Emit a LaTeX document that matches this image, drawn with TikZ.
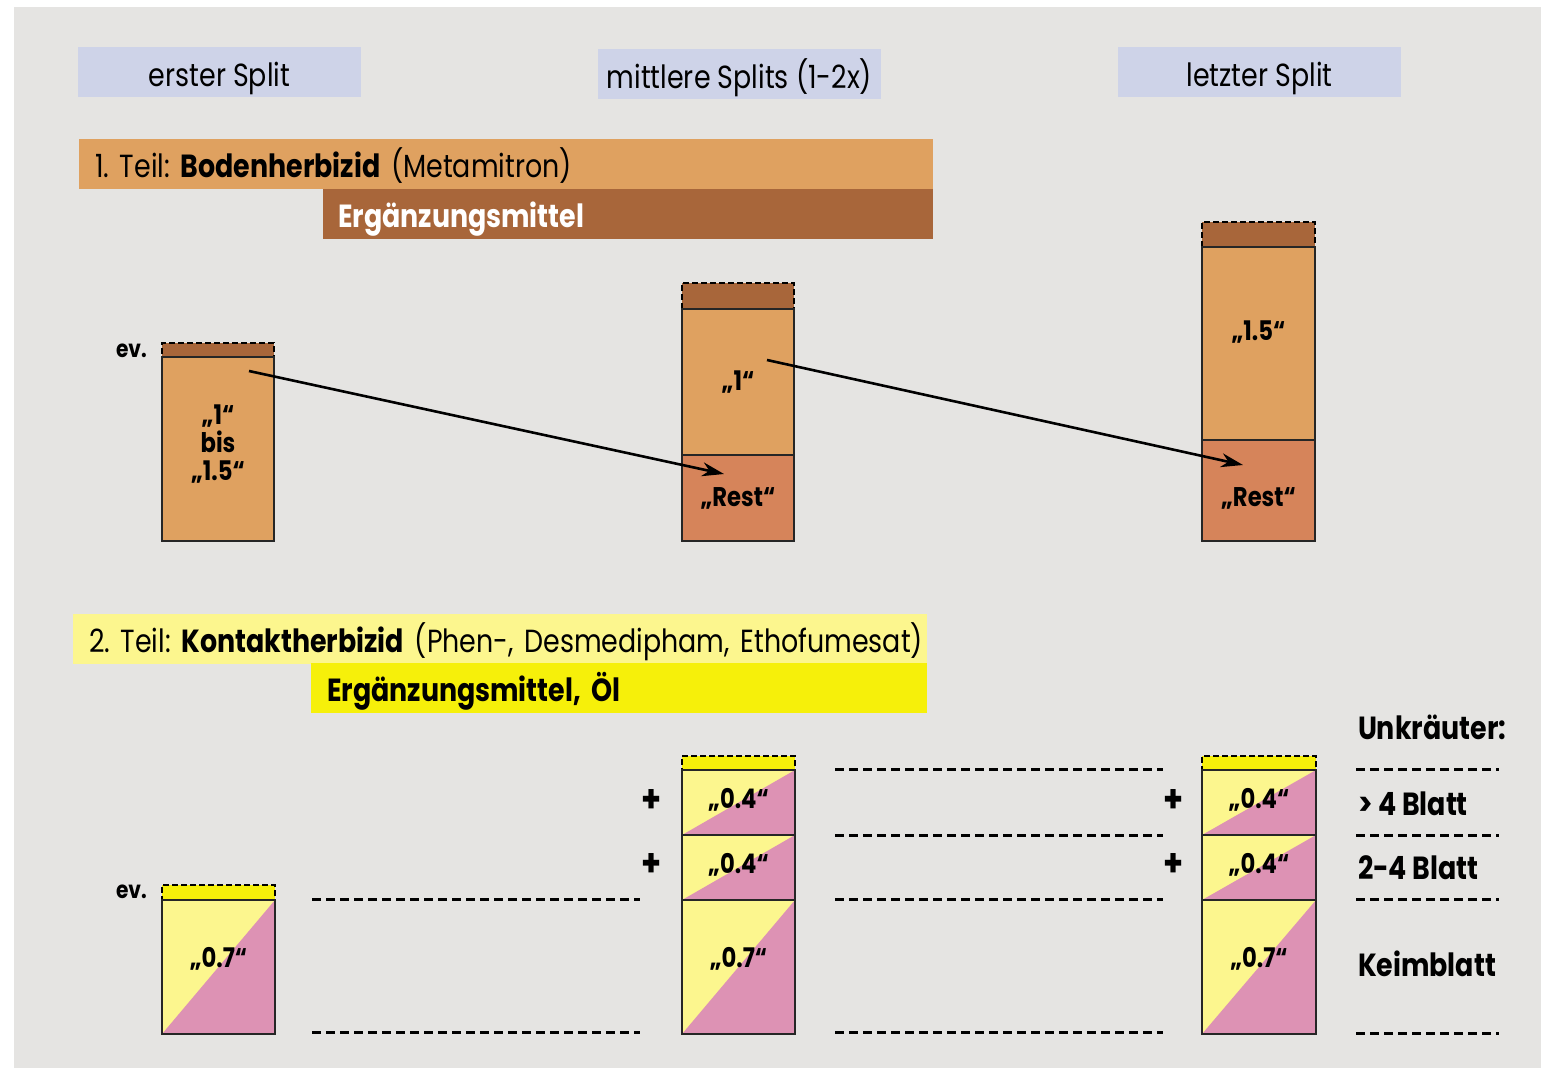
\documentclass[tikz,border=0pt]{standalone}
\usepackage{fontspec}
\setmainfont{Poppins}[FakeStretch=0.84]
\usetikzlibrary{arrows.meta}
\definecolor{bgcolor}{RGB}{229,228,226}
\definecolor{splitcolor}{RGB}{206,211,232}
\definecolor{bodencolor}{RGB}{223,161,96}
\definecolor{mittelcolor}{RGB}{168,102,58}
\definecolor{restcolor}{RGB}{214,132,90}
\definecolor{kontaktcolor}{RGB}{252,246,142}
\definecolor{oelcolor}{RGB}{246,240,10}
\definecolor{weedcolor}{RGB}{221,146,180}
\newcommand{\bigfont}{\fontsize{32}{36}\selectfont\frenchspacing}
\newcommand{\dosefont}{\fontsize{27}{32}\selectfont\bfseries}
\tikzset{
	every node/.style={inner sep=0pt, outer sep=0pt},
	splitbox/.style={fill=splitcolor, minimum width=283pt, minimum height=50pt, anchor=north west, font=\bigfont, text height=32pt, text depth=4pt},
	barbox/.style={anchor=north west, minimum height=50pt, inner xsep=16pt, align=left, font=\bigfont, text height=31pt, text depth=4pt},
	dosebox/.style={anchor=north west, draw=black!85, line width=1.6pt, font=\dosefont, align=center},
	evbox/.style={anchor=north west, draw=black, line width=2pt, dash pattern=on 6pt off 3pt},
	weedbox/.style={dosebox, fill=kontaktcolor, path picture={
		\fill[weedcolor] (path picture bounding box.south west) -- (path picture bounding box.north east) |- cycle;}},
	weedline/.style={line width=3pt, dash pattern=on 9pt off 5pt},
	pfeil/.style={line width=2.6pt, -{Stealth[length=22pt, width=14pt]}},
	plus/.style={font=\fontsize{38}{40}\selectfont\bfseries},
	plain/.style={font=\dosefont, anchor=west}
}
\begin{document}
\begin{tikzpicture}[x=1pt, y=-1pt]
	\useasboundingbox (0,0) rectangle (1541,1068);
	\fill[bgcolor] (14,7) rectangle (1541,1068);
	
	% split headers
	\node[splitbox] (erster) at (78,47) {erster Split};
	\node[splitbox] (mittlere) at (598,49) {mittlere Splits (1-2x)};
	\node[splitbox] (letzter) at (1118,47) {letzter Split};
	
	% 1. Teil
	\node[barbox, fill=bodencolor, text width=822pt, inner xsep=16pt] (boden) at (79,139) {\mbox{1. Teil: \textbf{Bodenherbizid} (Metamitron)}};
	\node[barbox, fill=mittelcolor, text width=580pt, inner xsep=15pt, text=white, font=\bigfont\bfseries] (mittel) at (323,189) {Ergänzungsmittel};
	
	\node[evbox, fill=mittelcolor, minimum width=112pt, minimum height=14pt] (ersterev) at (162,343) {};
	\node[dosebox, fill=bodencolor, minimum width=112pt, minimum height=184pt] (ersterdose) at (162,357) {};
	\node[font=\dosefont, align=center] at ([yshift=5pt]ersterdose.center) {„1“\\[-4pt]bis\\[-4pt]„1.5“};
	\node[plain, font=\fontsize{24}{28}\selectfont\bfseries] (ersterevtext) at (116,351) {ev.};
	
	\node[evbox, fill=mittelcolor, minimum width=112pt, minimum height=26pt] (mittlereev) at (682,283) {};
	\node[dosebox, fill=bodencolor, minimum width=112pt, minimum height=146pt] (mittleredose) at (682,309) {„1“};
	\node[dosebox, fill=restcolor, minimum width=112pt, minimum height=86pt] (mittlererest) at (682,455) {„Rest“};
	
	\node[evbox, fill=mittelcolor, minimum width=113pt, minimum height=25pt] (letzterev) at (1202,222) {};
	\node[dosebox, fill=bodencolor, minimum width=113pt, minimum height=193pt, text depth=26pt] (letzterdose) at (1202,247) {„1.5“};
	\node[dosebox, fill=restcolor, minimum width=113pt, minimum height=101pt, text height=34pt] (letzterrest) at (1202,440) {„Rest“};
	
	\coordinate (pfeilAstart) at (249,371);
	\coordinate (pfeilAende) at (724,474);
	\coordinate (pfeilBstart) at (767,360);
	\coordinate (pfeilBende) at (1243,465);
	\draw[pfeil] (pfeilAstart) -- (pfeilAende);
	\draw[pfeil] (pfeilBstart) -- (pfeilBende);
	
	% 2. Teil
	\node[barbox, fill=kontaktcolor, text width=822pt, inner xsep=16pt] (kontakt) at (73,614) {\mbox{2. Teil: \textbf{Kontaktherbizid} (Phen-, Desmedipham, Ethofumesat)}};
	\node[barbox, fill=oelcolor, text width=584pt, inner xsep=16pt, font=\bigfont\bfseries] (oel) at (311,663) {Ergänzungsmittel, Öl};
	
	\node[evbox, fill=oelcolor, minimum width=113pt, minimum height=15pt] (ersteroel) at (162,885) {};
	\node[weedbox, minimum width=113pt, minimum height=134pt, text depth=20pt] (ersterkeim) at (162,900) {„0.7“};
	\node[plain, font=\fontsize{24}{28}\selectfont\bfseries] (ersteroeltext) at (116,892) {ev.};
	
	\node[evbox, fill=oelcolor, minimum width=113pt, minimum height=14pt] (mittlereoel) at (682,756) {};
	\node[weedbox, minimum width=113pt, minimum height=65pt, text depth=9pt] (mittleregross) at (682,770) {„0.4“};
	\node[weedbox, minimum width=113pt, minimum height=65pt, text depth=9pt] (mittlereklein) at (682,835) {„0.4“};
	\node[weedbox, minimum width=113pt, minimum height=134pt, text depth=20pt] (mittlerekeim) at (682,900) {„0.7“};
	\node[plus] (mittlereplusA) at (652,801) {+};
	\node[plus] (mittlereplusB) at (652,865) {+};
	
	\node[evbox, fill=oelcolor, minimum width=114pt, minimum height=14pt] (letzteroel) at (1202,756) {};
	\node[weedbox, minimum width=114pt, minimum height=65pt, text depth=9pt] (letztergross) at (1202,770) {„0.4“};
	\node[weedbox, minimum width=114pt, minimum height=65pt, text depth=9pt] (letzterklein) at (1202,835) {„0.4“};
	\node[weedbox, minimum width=114pt, minimum height=134pt, text depth=20pt] (letzterkeim) at (1202,900) {„0.7“};
	\node[plus] (letzterplusA) at (1174,801) {+};
	\node[plus] (letzterplusB) at (1174,865) {+};
	
	% Unkraeuter
	\node[plain, font=\bigfont\bfseries] (unkraut) at (1358,727) {Unkräuter:};
	\node[plain, font=\bigfont\bfseries] (vierblatt) at (1358,804) {> 4 Blatt};
	\node[plain, font=\bigfont\bfseries] (zweiblatt) at (1358,868) {2-4 Blatt};
	\node[plain, font=\bigfont\bfseries] (keimblatt) at (1358,964) {Keimblatt};
	
	\draw[weedline] (312,899) -- (640,899);
	\draw[weedline] (312,1032) -- (640,1032);
	\draw[weedline] (835,769) -- (1163,769);
	\draw[weedline] (835,835) -- (1163,835);
	\draw[weedline] (835,899) -- (1163,899);
	\draw[weedline] (835,1032) -- (1163,1032);
	\draw[weedline] (1356,769) -- (1499,769);
	\draw[weedline] (1356,835) -- (1499,835);
	\draw[weedline] (1356,899) -- (1499,899);
	\draw[weedline] (1356,1033) -- (1499,1033);
	
\end{tikzpicture}
\end{document}
